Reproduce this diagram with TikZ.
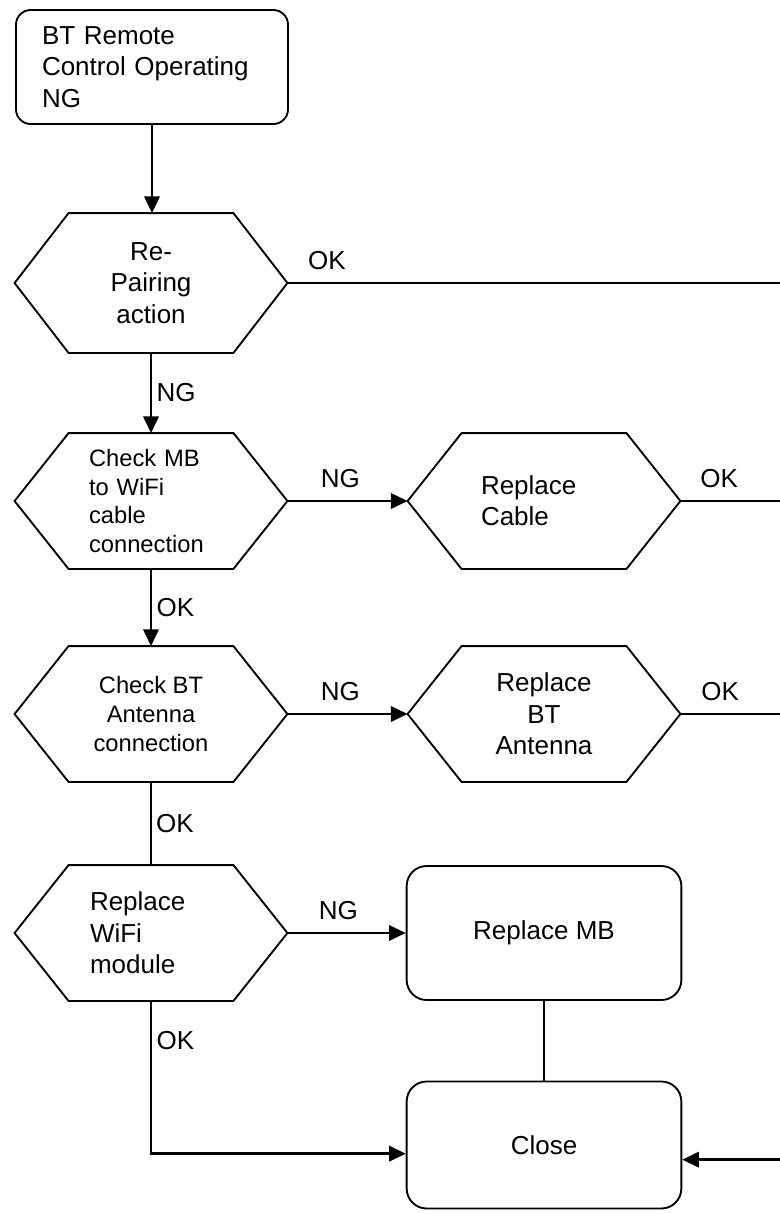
\documentclass[tikz,border=0pt]{standalone}
\usepackage{fontspec}
\setmainfont{Liberation Sans}
\usetikzlibrary{arrows.meta}
\newcommand{\chartfont}{\fontsize{19.5}{23.5}\selectfont}
\newcommand{\notefont}{\fontsize{17.8}{21.5}\selectfont}

\begin{document}
\begin{tikzpicture}[x=0.75pt,y=-0.75pt,node distance=294.75pt,>={Triangle[length=12.5pt,width=11.5pt]},line width=1.4pt,font=\chartfont,
        decision/.style={minimum width=203.25pt, minimum height=100.5pt, inner sep=0pt, align=center},
        process/.style={draw, rounded corners=15pt, minimum width=206pt, minimum height=100.5pt},
        flow/.style={->, line width=1.9pt},
        link/.style={line width=1.1pt}]
        \useasboundingbox (0,0) rectangle (780,1213);
        \coordinate (edge) at (780,0);
        % left column
        \node (start) [draw, rounded corners=11pt, minimum width=204pt, minimum height=85.5pt, text width=165pt, align=left] at (152,67) {BT Remote\\Control Operating\\NG};
        \node (pair) [decision, minimum height=103.5pt] at (151,283) {Re-\\Pairing\\action};
        \node (mbcable) [decision, font=\notefont, text width=93pt, align=left] at (151,501) {Check MB\\to WiFi\\cable\\connection};
        \node (antchk) [decision, font=\notefont] at (151,714) {Check BT\\Antenna\\connection};
        \node (wifi) [decision, text width=91.5pt, align=left] at (151,933) {Replace\\WiFi\\module};
        % right column
        \node (cable) [decision, right of=mbcable, text width=94.5pt, align=left] {Replace\\Cable};
        \node (antrep) [decision, right of=antchk] {Replace\\BT\\Antenna};
        \node (mb) [process, right of=wifi] {Replace MB};
        \node (close) [process, minimum height=95.25pt, below of=mb, node distance=159pt] {Close};
        % hexagon outlines
        \foreach \n in {pair,mbcable,antchk,wifi,cable,antrep}
            \draw ([xshift=40.5pt]\n.north west) -- ([xshift=-40.5pt]\n.north east) -- (\n.east)
                -- ([xshift=-40.5pt]\n.south east) -- ([xshift=40.5pt]\n.south west) -- (\n.west) -- cycle;
        \coordinate (closeok) at ([yshift=-6.5pt]close.west);
        \coordinate (closein) at ([yshift=-11pt]close.east);
        % connectors
        \draw[flow] (start) -- (start |- pair.north);
        \draw (pair.east) -- node (okpair) [above=6pt, pos=0.08] {OK} (pair.east -| edge);
        \draw[flow] (pair) -- node (ngpair) [right] {NG} (mbcable);
        \draw[flow] (mbcable) -- node (ngcable) [above=6pt, pos=0.44] {NG} (cable);
        \draw (cable.east) -- node (okcable) [above=6pt, pos=0.39] {OK} (cable.east -| edge);
        \draw[flow] (mbcable) -- node (okmbcable) [right] {OK} (antchk);
        \draw[flow] (antchk) -- node (ngant) [above=6pt, pos=0.44] {NG} (antrep);
        \draw (antrep.east) -- node (okant) [above=6pt, pos=0.4] {OK} (antrep.east -| edge);
        \draw[link] (antchk) -- node (okantchk) [right] {OK} (wifi);
        \draw[flow] (wifi) -- node (ngwifi) [above=6pt, pos=0.43] {NG} (mb);
        \draw[link] (mb) -- (close);
        \draw[flow] (wifi.south) |- node (okwifi) [right, pos=0.13] {OK} (closeok);
        \draw[flow] (closein -| edge) -- (closein);
    \end{tikzpicture}
\end{document}
